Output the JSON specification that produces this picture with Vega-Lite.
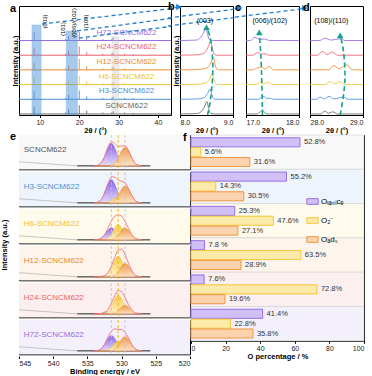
{
"$schema":"https://vega.github.io/schema/vega-lite/v6.json",
"padding":{"left":0,"top":0,"right":0,"bottom":0},
"spacing":-8,
"resolve":{"scale":{"color":"independent","fill":"independent","stroke":"independent"}},
"datasets":{
"samples":[{"s":"SCNCM622","k":0},{"s":"H3-SCNCM622","k":1},{"s":"H6-SCNCM622","k":2},{"s":"H12-SCNCM622","k":3},{"s":"H24-SCNCM622","k":4},{"s":"H72-SCNCM622","k":5}],
"blue":[
{"p":"a","a":1,"o":0,"t":10.54,"i":6.125},{"p":"a","a":1,"o":1,"t":43.3,"i":7.17},
{"p":"a","a":2,"o":0,"t":19.43,"i":5.65},{"p":"a","a":2,"o":1,"t":43.3,"i":6.51},
{"p":"a","a":3,"o":0,"t":19.94,"i":5.17},{"p":"a","a":3,"o":1,"t":43.3,"i":5.96},
{"p":"b","a":1,"o":0,"t":7.774,"i":7.19},{"p":"b","a":1,"o":1,"t":7.98,"i":7.28,"h":1},
{"p":"b","a":2,"o":0,"t":7.774,"i":6.53},{"p":"b","a":2,"o":1,"t":9.094,"i":7.17},
{"p":"b","a":3,"o":0,"t":7.774,"i":5.99},{"p":"b","a":3,"o":1,"t":9.094,"i":6.59},
{"p":"c","a":2,"o":0,"t":16.79,"i":7.17},{"p":"c","a":2,"o":1,"t":16.885,"i":7.21,"h":1},
{"p":"c","a":3,"o":0,"t":16.79,"i":6.59},{"p":"c","a":3,"o":1,"t":18.096,"i":7.17},
{"p":"d","a":3,"o":0,"t":27.83,"i":7.18},{"p":"d","a":3,"o":1,"t":27.906,"i":7.21,"h":1}],
"xrd":[
{"s":"SCNCM622","k":0,"t":8.55,"i":0.5},{"s":"SCNCM622","k":0,"t":16.5,"i":0.1},{"s":"SCNCM622","k":0,"t":17.3,"i":0.3},{"s":"SCNCM622","k":0,"t":20.0,"i":0.6},{"s":"SCNCM622","k":0,"t":21.9,"i":0.22},{"s":"SCNCM622","k":0,"t":26.0,"i":0.1},{"s":"SCNCM622","k":0,"t":28.3,"i":0.12},{"s":"SCNCM622","k":0,"t":28.6,"i":0.18},{"s":"SCNCM622","k":0,"t":31.5,"i":0.1},{"s":"SCNCM622","k":0,"t":33.7,"i":0.07},
{"s":"H3-SCNCM622","k":1,"t":8.55,"i":1.55},{"s":"H3-SCNCM622","k":1,"t":16.5,"i":1.1},{"s":"H3-SCNCM622","k":1,"t":17.3,"i":1.3},{"s":"H3-SCNCM622","k":1,"t":20.0,"i":1.6},{"s":"H3-SCNCM622","k":1,"t":21.9,"i":1.2},{"s":"H3-SCNCM622","k":1,"t":26.0,"i":1.1},{"s":"H3-SCNCM622","k":1,"t":28.3,"i":1.12},{"s":"H3-SCNCM622","k":1,"t":28.6,"i":1.18},{"s":"H3-SCNCM622","k":1,"t":31.5,"i":1.1},{"s":"H3-SCNCM622","k":1,"t":33.7,"i":1.07},
{"s":"H6-SCNCM622","k":2,"t":8.55,"i":2.5},{"s":"H6-SCNCM622","k":2,"t":16.5,"i":2.1},{"s":"H6-SCNCM622","k":2,"t":17.3,"i":2.28},{"s":"H6-SCNCM622","k":2,"t":20.0,"i":2.6},{"s":"H6-SCNCM622","k":2,"t":21.9,"i":2.22},{"s":"H6-SCNCM622","k":2,"t":26.0,"i":2.1},{"s":"H6-SCNCM622","k":2,"t":28.3,"i":2.12},{"s":"H6-SCNCM622","k":2,"t":28.6,"i":2.18},{"s":"H6-SCNCM622","k":2,"t":31.5,"i":2.1},{"s":"H6-SCNCM622","k":2,"t":33.7,"i":2.07},
{"s":"H12-SCNCM622","k":3,"t":8.55,"i":3.5},{"s":"H12-SCNCM622","k":3,"t":16.5,"i":3.1},{"s":"H12-SCNCM622","k":3,"t":17.3,"i":3.3},{"s":"H12-SCNCM622","k":3,"t":20.0,"i":3.75},{"s":"H12-SCNCM622","k":3,"t":21.9,"i":3.25},{"s":"H12-SCNCM622","k":3,"t":26.0,"i":3.1},{"s":"H12-SCNCM622","k":3,"t":28.3,"i":3.12},{"s":"H12-SCNCM622","k":3,"t":28.6,"i":3.2},{"s":"H12-SCNCM622","k":3,"t":31.5,"i":3.1},{"s":"H12-SCNCM622","k":3,"t":33.7,"i":3.07},
{"s":"H24-SCNCM622","k":4,"t":8.55,"i":4.5},{"s":"H24-SCNCM622","k":4,"t":16.5,"i":4.1},{"s":"H24-SCNCM622","k":4,"t":17.3,"i":4.3},{"s":"H24-SCNCM622","k":4,"t":20.0,"i":4.6},{"s":"H24-SCNCM622","k":4,"t":21.9,"i":4.22},{"s":"H24-SCNCM622","k":4,"t":26.0,"i":4.1},{"s":"H24-SCNCM622","k":4,"t":28.3,"i":4.12},{"s":"H24-SCNCM622","k":4,"t":28.6,"i":4.18},{"s":"H24-SCNCM622","k":4,"t":31.5,"i":4.1},{"s":"H24-SCNCM622","k":4,"t":33.7,"i":4.07},
{"s":"H72-SCNCM622","k":5,"t":8.55,"i":5.55},{"s":"H72-SCNCM622","k":5,"t":16.5,"i":5.1},{"s":"H72-SCNCM622","k":5,"t":17.3,"i":5.3},{"s":"H72-SCNCM622","k":5,"t":20.0,"i":5.6},{"s":"H72-SCNCM622","k":5,"t":21.9,"i":5.22},{"s":"H72-SCNCM622","k":5,"t":26.0,"i":5.1},{"s":"H72-SCNCM622","k":5,"t":28.3,"i":5.14},{"s":"H72-SCNCM622","k":5,"t":28.6,"i":5.2},{"s":"H72-SCNCM622","k":5,"t":31.5,"i":5.1},{"s":"H72-SCNCM622","k":5,"t":33.7,"i":5.07}],
"bx":[
{"s":"SCNCM622","t":8.0,"i":0},{"s":"SCNCM622","t":8.3,"i":0.02},{"s":"SCNCM622","t":8.39,"i":0.13},{"s":"SCNCM622","t":8.46,"i":0.47},{"s":"SCNCM622","t":8.51,"i":0.85},{"s":"SCNCM622","t":8.54,"i":0.38},{"s":"SCNCM622","t":8.58,"i":0.04},{"s":"SCNCM622","t":8.63,"i":0},{"s":"SCNCM622","t":9.0,"i":0},
{"s":"H3-SCNCM622","t":8.0,"i":1},{"s":"H3-SCNCM622","t":8.3,"i":1.02},{"s":"H3-SCNCM622","t":8.45,"i":1.1},{"s":"H3-SCNCM622","t":8.52,"i":1.39},{"s":"H3-SCNCM622","t":8.57,"i":1.7},{"s":"H3-SCNCM622","t":8.6,"i":1.32},{"s":"H3-SCNCM622","t":8.64,"i":1.04},{"s":"H3-SCNCM622","t":8.69,"i":1},{"s":"H3-SCNCM622","t":9.0,"i":1},
{"s":"H6-SCNCM622","t":8.0,"i":2},{"s":"H6-SCNCM622","t":8.3,"i":2.02},{"s":"H6-SCNCM622","t":8.49,"i":2.11},{"s":"H6-SCNCM622","t":8.56,"i":2.41},{"s":"H6-SCNCM622","t":8.61,"i":2.75},{"s":"H6-SCNCM622","t":8.64,"i":2.34},{"s":"H6-SCNCM622","t":8.68,"i":2.04},{"s":"H6-SCNCM622","t":8.73,"i":2},{"s":"H6-SCNCM622","t":9.0,"i":2},
{"s":"H12-SCNCM622","t":8.0,"i":3},{"s":"H12-SCNCM622","t":8.3,"i":3.02},{"s":"H12-SCNCM622","t":8.51,"i":3.13},{"s":"H12-SCNCM622","t":8.58,"i":3.47},{"s":"H12-SCNCM622","t":8.63,"i":3.85},{"s":"H12-SCNCM622","t":8.66,"i":3.38},{"s":"H12-SCNCM622","t":8.7,"i":3.04},{"s":"H12-SCNCM622","t":8.75,"i":3},{"s":"H12-SCNCM622","t":9.0,"i":3},
{"s":"H24-SCNCM622","t":8.0,"i":4},{"s":"H24-SCNCM622","t":8.3,"i":4.02},{"s":"H24-SCNCM622","t":8.46,"i":4.15},{"s":"H24-SCNCM622","t":8.53,"i":4.55},{"s":"H24-SCNCM622","t":8.58,"i":5.0},{"s":"H24-SCNCM622","t":8.61,"i":4.45},{"s":"H24-SCNCM622","t":8.65,"i":4.05},{"s":"H24-SCNCM622","t":8.7,"i":4},{"s":"H24-SCNCM622","t":9.0,"i":4},
{"s":"H72-SCNCM622","t":8.0,"i":5},{"s":"H72-SCNCM622","t":8.3,"i":5.03},{"s":"H72-SCNCM622","t":8.37,"i":5.14},{"s":"H72-SCNCM622","t":8.44,"i":5.5},{"s":"H72-SCNCM622","t":8.49,"i":5.9},{"s":"H72-SCNCM622","t":8.52,"i":5.4},{"s":"H72-SCNCM622","t":8.56,"i":5.05},{"s":"H72-SCNCM622","t":8.61,"i":5},{"s":"H72-SCNCM622","t":9.0,"i":5}],
"cx":[
{"s":"SCNCM622","t":17.0,"i":0},{"s":"SCNCM622","t":17.2,"i":0},{"s":"SCNCM622","t":17.27,"i":0.15},{"s":"SCNCM622","t":17.31,"i":0.28},{"s":"SCNCM622","t":17.36,"i":0.05},{"s":"SCNCM622","t":17.42,"i":0},{"s":"SCNCM622","t":18.0,"i":0},
{"s":"H3-SCNCM622","t":17.0,"i":1},{"s":"H3-SCNCM622","t":17.22,"i":1},{"s":"H3-SCNCM622","t":17.3,"i":1.12},{"s":"H3-SCNCM622","t":17.34,"i":1.2},{"s":"H3-SCNCM622","t":17.39,"i":1.05},{"s":"H3-SCNCM622","t":17.45,"i":1.08},{"s":"H3-SCNCM622","t":17.52,"i":1},{"s":"H3-SCNCM622","t":18.0,"i":1},
{"s":"H6-SCNCM622","t":17.0,"i":2},{"s":"H6-SCNCM622","t":17.18,"i":2},{"s":"H6-SCNCM622","t":17.27,"i":2.15},{"s":"H6-SCNCM622","t":17.33,"i":2.05},{"s":"H6-SCNCM622","t":17.42,"i":2.18},{"s":"H6-SCNCM622","t":17.5,"i":2},{"s":"H6-SCNCM622","t":18.0,"i":2},
{"s":"H12-SCNCM622","t":17.0,"i":3},{"s":"H12-SCNCM622","t":17.12,"i":3},{"s":"H12-SCNCM622","t":17.2,"i":3.12},{"s":"H12-SCNCM622","t":17.3,"i":3.18},{"s":"H12-SCNCM622","t":17.36,"i":3.05},{"s":"H12-SCNCM622","t":17.44,"i":3.25},{"s":"H12-SCNCM622","t":17.52,"i":3},{"s":"H12-SCNCM622","t":18.0,"i":3},
{"s":"H24-SCNCM622","t":17.0,"i":4},{"s":"H24-SCNCM622","t":17.12,"i":4},{"s":"H24-SCNCM622","t":17.22,"i":4.18},{"s":"H24-SCNCM622","t":17.3,"i":4.07},{"s":"H24-SCNCM622","t":17.36,"i":4.1},{"s":"H24-SCNCM622","t":17.43,"i":4},{"s":"H24-SCNCM622","t":18.0,"i":4},
{"s":"H72-SCNCM622","t":17.0,"i":5},{"s":"H72-SCNCM622","t":17.08,"i":5},{"s":"H72-SCNCM622","t":17.17,"i":5.22},{"s":"H72-SCNCM622","t":17.25,"i":5.08},{"s":"H72-SCNCM622","t":17.35,"i":5.1},{"s":"H72-SCNCM622","t":17.44,"i":5},{"s":"H72-SCNCM622","t":18.0,"i":5}],
"dx":[
{"s":"SCNCM622","t":28.0,"i":0},{"s":"SCNCM622","t":28.2,"i":0},{"s":"SCNCM622","t":28.28,"i":0.18},{"s":"SCNCM622","t":28.35,"i":0.05},{"s":"SCNCM622","t":28.43,"i":0.15},{"s":"SCNCM622","t":28.52,"i":0},{"s":"SCNCM622","t":29.0,"i":0},
{"s":"H3-SCNCM622","t":28.0,"i":1},{"s":"H3-SCNCM622","t":28.12,"i":1},{"s":"H3-SCNCM622","t":28.19,"i":1.15},{"s":"H3-SCNCM622","t":28.27,"i":1.03},{"s":"H3-SCNCM622","t":28.36,"i":1.2},{"s":"H3-SCNCM622","t":28.45,"i":1.03},{"s":"H3-SCNCM622","t":28.64,"i":1.15},{"s":"H3-SCNCM622","t":28.72,"i":1},{"s":"H3-SCNCM622","t":29.0,"i":1},
{"s":"H6-SCNCM622","t":28.0,"i":2},{"s":"H6-SCNCM622","t":28.28,"i":2},{"s":"H6-SCNCM622","t":28.38,"i":2.2},{"s":"H6-SCNCM622","t":28.47,"i":2.05},{"s":"H6-SCNCM622","t":28.57,"i":2.2},{"s":"H6-SCNCM622","t":28.66,"i":2},{"s":"H6-SCNCM622","t":29.0,"i":2},
{"s":"H12-SCNCM622","t":28.0,"i":3},{"s":"H12-SCNCM622","t":28.35,"i":3},{"s":"H12-SCNCM622","t":28.45,"i":3.3},{"s":"H12-SCNCM622","t":28.55,"i":3.08},{"s":"H12-SCNCM622","t":28.7,"i":3.35},{"s":"H12-SCNCM622","t":28.8,"i":3},{"s":"H12-SCNCM622","t":29.0,"i":3},
{"s":"H24-SCNCM622","t":28.0,"i":4},{"s":"H24-SCNCM622","t":28.14,"i":4},{"s":"H24-SCNCM622","t":28.23,"i":4.25},{"s":"H24-SCNCM622","t":28.32,"i":4.05},{"s":"H24-SCNCM622","t":28.42,"i":4.22},{"s":"H24-SCNCM622","t":28.52,"i":4},{"s":"H24-SCNCM622","t":29.0,"i":4},
{"s":"H72-SCNCM622","t":28.0,"i":5},{"s":"H72-SCNCM622","t":28.18,"i":5},{"s":"H72-SCNCM622","t":28.28,"i":5.15},{"s":"H72-SCNCM622","t":28.4,"i":5.03},{"s":"H72-SCNCM622","t":28.57,"i":5.12},{"s":"H72-SCNCM622","t":28.66,"i":5},{"s":"H72-SCNCM622","t":29.0,"i":5}],
"arr":[
{"p":"b","o":0,"t":8.52,"i":-0.07},{"p":"b","o":1,"t":8.58,"i":1.1},{"p":"b","o":2,"t":8.62,"i":3.1},{"p":"b","o":3,"t":8.58,"i":5.0},{"p":"b","o":4,"t":8.5,"i":5.9},
{"p":"c","o":0,"t":17.31,"i":-0.07},{"p":"c","o":1,"t":17.3,"i":2.0},{"p":"c","o":2,"t":17.28,"i":4.0},{"p":"c","o":4,"t":17.25,"i":5.55},
{"p":"d","o":0,"t":28.57,"i":-0.07},{"p":"d","o":1,"t":28.64,"i":1.5},{"p":"d","o":2,"t":28.66,"i":2.8},{"p":"d","o":3,"t":28.63,"i":4.3},{"p":"d","o":4,"t":28.57,"i":5.35}],
"xps":[
{"s":"SCNCM622","be":534,"P":0,"M":0,"O":0,"E":0},{"s":"SCNCM622","be":533.5,"P":0.02,"M":0,"O":0,"E":0.02},{"s":"SCNCM622","be":533,"P":0.09,"M":0,"O":0,"E":0.09},{"s":"SCNCM622","be":532.5,"P":0.27,"M":0,"O":0,"E":0.27},{"s":"SCNCM622","be":532,"P":0.53,"M":0.01,"O":0,"E":0.54},{"s":"SCNCM622","be":531.5,"P":0.66,"M":0.02,"O":0.02,"E":0.7},{"s":"SCNCM622","be":531,"P":0.53,"M":0.05,"O":0.07,"E":0.65},{"s":"SCNCM622","be":530.5,"P":0.27,"M":0.06,"O":0.23,"E":0.56},{"s":"SCNCM622","be":530,"P":0.09,"M":0.05,"O":0.44,"E":0.58},{"s":"SCNCM622","be":529.5,"P":0.02,"M":0.02,"O":0.55,"E":0.59},{"s":"SCNCM622","be":529,"P":0,"M":0.01,"O":0.44,"E":0.45},{"s":"SCNCM622","be":528.5,"P":0,"M":0,"O":0.23,"E":0.23},{"s":"SCNCM622","be":528,"P":0,"M":0,"O":0.07,"E":0.07},{"s":"SCNCM622","be":527.5,"P":0,"M":0,"O":0.02,"E":0.02},{"s":"SCNCM622","be":527,"P":0,"M":0,"O":0,"E":0},
{"s":"H3-SCNCM622","be":534,"P":0,"M":0,"O":0,"E":0},{"s":"H3-SCNCM622","be":533.5,"P":0.02,"M":0,"O":0,"E":0.02},{"s":"H3-SCNCM622","be":533,"P":0.09,"M":0,"O":0,"E":0.09},{"s":"H3-SCNCM622","be":532.5,"P":0.28,"M":0.01,"O":0,"E":0.29},{"s":"H3-SCNCM622","be":532,"P":0.54,"M":0.02,"O":0,"E":0.56},{"s":"H3-SCNCM622","be":531.5,"P":0.68,"M":0.07,"O":0.01,"E":0.76},{"s":"H3-SCNCM622","be":531,"P":0.54,"M":0.14,"O":0.07,"E":0.75},{"s":"H3-SCNCM622","be":530.5,"P":0.28,"M":0.18,"O":0.21,"E":0.67},{"s":"H3-SCNCM622","be":530,"P":0.09,"M":0.14,"O":0.4,"E":0.63},{"s":"H3-SCNCM622","be":529.5,"P":0.02,"M":0.07,"O":0.5,"E":0.59},{"s":"H3-SCNCM622","be":529,"P":0,"M":0.02,"O":0.4,"E":0.42},{"s":"H3-SCNCM622","be":528.5,"P":0,"M":0.01,"O":0.21,"E":0.22},{"s":"H3-SCNCM622","be":528,"P":0,"M":0,"O":0.07,"E":0.07},{"s":"H3-SCNCM622","be":527.5,"P":0,"M":0,"O":0.01,"E":0.01},{"s":"H3-SCNCM622","be":527,"P":0,"M":0,"O":0,"E":0},
{"s":"H6-SCNCM622","be":534,"P":0,"M":0,"O":0,"E":0},{"s":"H6-SCNCM622","be":533.5,"P":0.01,"M":0,"O":0,"E":0.01},{"s":"H6-SCNCM622","be":533,"P":0.05,"M":0,"O":0,"E":0.05},{"s":"H6-SCNCM622","be":532.5,"P":0.14,"M":0.01,"O":0,"E":0.15},{"s":"H6-SCNCM622","be":532,"P":0.28,"M":0.06,"O":0,"E":0.34},{"s":"H6-SCNCM622","be":531.5,"P":0.35,"M":0.18,"O":0.01,"E":0.54},{"s":"H6-SCNCM622","be":531,"P":0.28,"M":0.36,"O":0.05,"E":0.69},{"s":"H6-SCNCM622","be":530.5,"P":0.14,"M":0.45,"O":0.14,"E":0.73},{"s":"H6-SCNCM622","be":530,"P":0.05,"M":0.36,"O":0.28,"E":0.69},{"s":"H6-SCNCM622","be":529.5,"P":0.01,"M":0.18,"O":0.35,"E":0.54},{"s":"H6-SCNCM622","be":529,"P":0,"M":0.06,"O":0.28,"E":0.34},{"s":"H6-SCNCM622","be":528.5,"P":0,"M":0.01,"O":0.14,"E":0.15},{"s":"H6-SCNCM622","be":528,"P":0,"M":0,"O":0.05,"E":0.05},{"s":"H6-SCNCM622","be":527.5,"P":0,"M":0,"O":0.01,"E":0.01},{"s":"H6-SCNCM622","be":527,"P":0,"M":0,"O":0,"E":0},
{"s":"H12-SCNCM622","be":534,"P":0,"M":0,"O":0,"E":0},{"s":"H12-SCNCM622","be":533.5,"P":0,"M":0,"O":0,"E":0},{"s":"H12-SCNCM622","be":533,"P":0.01,"M":0,"O":0,"E":0.01},{"s":"H12-SCNCM622","be":532.5,"P":0.02,"M":0.02,"O":0,"E":0.04},{"s":"H12-SCNCM622","be":532,"P":0.04,"M":0.08,"O":0,"E":0.12},{"s":"H12-SCNCM622","be":531.5,"P":0.05,"M":0.25,"O":0.01,"E":0.31},{"s":"H12-SCNCM622","be":531,"P":0.04,"M":0.48,"O":0.05,"E":0.57},{"s":"H12-SCNCM622","be":530.5,"P":0.02,"M":0.6,"O":0.16,"E":0.78},{"s":"H12-SCNCM622","be":530,"P":0.01,"M":0.48,"O":0.32,"E":0.81},{"s":"H12-SCNCM622","be":529.5,"P":0,"M":0.25,"O":0.4,"E":0.65},{"s":"H12-SCNCM622","be":529,"P":0,"M":0.08,"O":0.32,"E":0.4},{"s":"H12-SCNCM622","be":528.5,"P":0,"M":0.02,"O":0.16,"E":0.18},{"s":"H12-SCNCM622","be":528,"P":0,"M":0,"O":0.05,"E":0.05},{"s":"H12-SCNCM622","be":527.5,"P":0,"M":0,"O":0.01,"E":0.01},{"s":"H12-SCNCM622","be":527,"P":0,"M":0,"O":0,"E":0},
{"s":"H24-SCNCM622","be":534,"P":0,"M":0,"O":0,"E":0},{"s":"H24-SCNCM622","be":533.5,"P":0,"M":0,"O":0,"E":0},{"s":"H24-SCNCM622","be":533,"P":0.01,"M":0,"O":0,"E":0.01},{"s":"H24-SCNCM622","be":532.5,"P":0.03,"M":0.02,"O":0,"E":0.05},{"s":"H24-SCNCM622","be":532,"P":0.06,"M":0.07,"O":0,"E":0.13},{"s":"H24-SCNCM622","be":531.5,"P":0.08,"M":0.23,"O":0.01,"E":0.32},{"s":"H24-SCNCM622","be":531,"P":0.06,"M":0.44,"O":0.03,"E":0.53},{"s":"H24-SCNCM622","be":530.5,"P":0.03,"M":0.55,"O":0.1,"E":0.68},{"s":"H24-SCNCM622","be":530,"P":0.01,"M":0.44,"O":0.2,"E":0.65},{"s":"H24-SCNCM622","be":529.5,"P":0,"M":0.23,"O":0.25,"E":0.48},{"s":"H24-SCNCM622","be":529,"P":0,"M":0.07,"O":0.2,"E":0.27},{"s":"H24-SCNCM622","be":528.5,"P":0,"M":0.02,"O":0.1,"E":0.12},{"s":"H24-SCNCM622","be":528,"P":0,"M":0,"O":0.03,"E":0.03},{"s":"H24-SCNCM622","be":527.5,"P":0,"M":0,"O":0.01,"E":0.01},{"s":"H24-SCNCM622","be":527,"P":0,"M":0,"O":0,"E":0},
{"s":"H72-SCNCM622","be":534,"P":0,"M":0,"O":0,"E":0},{"s":"H72-SCNCM622","be":533.5,"P":0.01,"M":0,"O":0,"E":0.01},{"s":"H72-SCNCM622","be":533,"P":0.06,"M":0,"O":0,"E":0.06},{"s":"H72-SCNCM622","be":532.5,"P":0.18,"M":0.01,"O":0,"E":0.19},{"s":"H72-SCNCM622","be":532,"P":0.36,"M":0.04,"O":0,"E":0.4},{"s":"H72-SCNCM622","be":531.5,"P":0.45,"M":0.11,"O":0.01,"E":0.57},{"s":"H72-SCNCM622","be":531,"P":0.36,"M":0.22,"O":0.06,"E":0.64},{"s":"H72-SCNCM622","be":530.5,"P":0.18,"M":0.28,"O":0.17,"E":0.63},{"s":"H72-SCNCM622","be":530,"P":0.06,"M":0.22,"O":0.34,"E":0.62},{"s":"H72-SCNCM622","be":529.5,"P":0.01,"M":0.11,"O":0.42,"E":0.54},{"s":"H72-SCNCM622","be":529,"P":0,"M":0.04,"O":0.34,"E":0.38},{"s":"H72-SCNCM622","be":528.5,"P":0,"M":0.01,"O":0.17,"E":0.18},{"s":"H72-SCNCM622","be":528,"P":0,"M":0,"O":0.06,"E":0.06},{"s":"H72-SCNCM622","be":527.5,"P":0,"M":0,"O":0.01,"E":0.01},{"s":"H72-SCNCM622","be":527,"P":0,"M":0,"O":0,"E":0}],
"pct":[
{"s":"SCNCM622","c":"lat","v":63,"lab":"52.8%"},{"s":"SCNCM622","c":"o2","v":5.6,"lab":"5.6%"},{"s":"SCNCM622","c":"ads","v":34,"lab":"31.6%"},
{"s":"H3-SCNCM622","c":"lat","v":55.2,"lab":"55.2%"},{"s":"H3-SCNCM622","c":"o2","v":14.3,"lab":"14.3%"},{"s":"H3-SCNCM622","c":"ads","v":30.5,"lab":"30.5%"},
{"s":"H6-SCNCM622","c":"lat","v":25.3,"lab":"25.3%"},{"s":"H6-SCNCM622","c":"o2","v":47.6,"lab":"47.6%"},{"s":"H6-SCNCM622","c":"ads","v":27.1,"lab":"27.1%"},
{"s":"H12-SCNCM622","c":"lat","v":7.8,"lab":"7.8 %"},{"s":"H12-SCNCM622","c":"o2","v":63.5,"lab":"63.5%"},{"s":"H12-SCNCM622","c":"ads","v":28.9,"lab":"28.9%"},
{"s":"H24-SCNCM622","c":"lat","v":7.6,"lab":"7.6%"},{"s":"H24-SCNCM622","c":"o2","v":72.8,"lab":"72.8%"},{"s":"H24-SCNCM622","c":"ads","v":19.6,"lab":"19.6%"},
{"s":"H72-SCNCM622","c":"lat","v":41.4,"lab":"41.4%"},{"s":"H72-SCNCM622","c":"o2","v":22.8,"lab":"22.8%"},{"s":"H72-SCNCM622","c":"ads","v":35.8,"lab":"35.8%"}]
},
"vconcat":[
{"hconcat":[
{"width":152,"height":109,
 "title":{"text":"a","dx":-9},
 "layer":[
  {"data":{"name":"samples"},"mark":{"type":"rule","strokeWidth":1},
   "encoding":{"y":{"field":"k","type":"quantitative","scale":{"domain":[-0.07,7.35],"nice":false,"zero":false},"axis":{"title":"Intensity (a.u.)","labels":false,"ticks":false,"tickSize":0,"labelPadding":0,"titlePadding":0}},
    "color":{"field":"s","type":"nominal","scale":{"domain":["SCNCM622","H3-SCNCM622","H6-SCNCM622","H12-SCNCM622","H24-SCNCM622","H72-SCNCM622"],"range":["#666666","#4A90D9","#F2C230","#EE8A2A","#EF5E6E","#9A6BE3"]},"legend":null}}},
  {"data":{"name":"xrd"},"mark":{"type":"rule","strokeWidth":0.9},
   "encoding":{"x":{"field":"t","type":"quantitative","scale":{"domain":[4.7,43.3],"nice":false,"zero":false},"axis":{"values":[10,20,30,40],"title":"2θ / (°)"}},
    "y":{"field":"i","type":"quantitative"},"y2":{"field":"k"},
    "color":{"field":"s","type":"nominal","scale":{"domain":["SCNCM622","H3-SCNCM622","H6-SCNCM622","H12-SCNCM622","H24-SCNCM622","H72-SCNCM622"],"range":["#666666","#4A90D9","#F2C230","#EE8A2A","#EF5E6E","#9A6BE3"]},"legend":null}}},
  {"data":{"values":[{"x0":8.0,"x1":10.3,"y1":6.05},{"x0":16.7,"x1":19.5,"y1":5.65}]},"mark":{"type":"rect","fill":"#4F96DB","opacity":0.5,"stroke":"#2F7FCF","strokeWidth":0.6},
   "encoding":{"x":{"field":"x0","type":"quantitative"},"x2":{"field":"x1"},"y":{"field":"y1","type":"quantitative"},"y2":{"datum":-0.07}}},
  {"data":{"values":[{"x0":28.2,"x1":30.2,"y1":5.3}]},"mark":{"type":"rect","fill":"#BBBBBB","opacity":0.3},
   "encoding":{"x":{"field":"x0","type":"quantitative"},"x2":{"field":"x1"},"y":{"field":"y1","type":"quantitative"},"y2":{"datum":-0.07}}},
  {"data":{"name":"samples"},"mark":{"type":"text","fontSize":8,"dy":-8,"align":"center"},
   "encoding":{"x":{"datum":32},"y":{"field":"k","type":"quantitative"},"text":{"field":"s"},
    "color":{"field":"s","type":"nominal","scale":{"domain":["SCNCM622","H3-SCNCM622","H6-SCNCM622","H12-SCNCM622","H24-SCNCM622","H72-SCNCM622"],"range":["#666666","#4A90D9","#F2C230","#EE8A2A","#EF5E6E","#9A6BE3"]},"legend":null}}},
  {"data":{"values":[{"h":"(003)","t":11.3,"i":6.3},{"h":"(101)","t":15.8,"i":5.78},{"h":"(006)/(102)","t":18.7,"i":6.2},{"h":"(104)","t":21.75,"i":6.3}]},
   "mark":{"type":"text","angle":270,"fontSize":6,"baseline":"middle","align":"center"},
   "encoding":{"x":{"field":"t","type":"quantitative"},"y":{"field":"i","type":"quantitative"},"text":{"field":"h"}}},
  {"data":{"name":"blue"},"transform":[{"filter":"datum.p=='a'"}],"mark":{"type":"line","stroke":"#1F7FD1","strokeDash":[4,3],"strokeWidth":1.3},
   "encoding":{"x":{"field":"t","type":"quantitative"},"y":{"field":"i","type":"quantitative"},"detail":{"field":"a"},"order":{"field":"o"}}}
 ]},
{"width":53,"height":109,
 "title":{"text":"b","dx":-12},
 "layer":[
  {"data":{"name":"bx"},"mark":{"type":"line","strokeWidth":1,"interpolate":"monotone","opacity":0.85},
   "encoding":{"x":{"field":"t","type":"quantitative","scale":{"domain":[8,9],"nice":false,"zero":false},"axis":{"values":[8,8.5,9],"format":".1f","title":"2θ / (°)"}},
    "y":{"field":"i","type":"quantitative","scale":{"domain":[-0.07,7.35],"nice":false,"zero":false},"axis":{"title":"Intensity (a.u.)","labels":false,"ticks":false,"tickSize":0,"labelPadding":0,"titlePadding":0}},
    "color":{"field":"s","type":"nominal","scale":{"domain":["SCNCM622","H3-SCNCM622","H6-SCNCM622","H12-SCNCM622","H24-SCNCM622","H72-SCNCM622"],"range":["#666666","#4A90D9","#F2C230","#EE8A2A","#EF5E6E","#9A6BE3"]},"legend":null}}},
  {"data":{"name":"arr"},"transform":[{"filter":"datum.p=='b'"}],"mark":{"type":"line","stroke":"#18A090","strokeDash":[5,3],"strokeWidth":1.6,"interpolate":"cardinal"},
   "encoding":{"x":{"field":"t","type":"quantitative"},"y":{"field":"i","type":"quantitative"},"order":{"field":"o"}}},
  {"data":{"name":"arr"},"transform":[{"filter":"datum.p=='b' && datum.o==4"}],"mark":{"type":"point","shape":"triangle-up","filled":true,"size":45,"color":"#18A090","opacity":1},
   "encoding":{"x":{"field":"t","type":"quantitative"},"y":{"field":"i","type":"quantitative"}}},
  {"data":{"name":"blue"},"transform":[{"filter":"datum.p=='b'"}],"mark":{"type":"line","stroke":"#1F7FD1","strokeDash":[4,3],"strokeWidth":1.3,"clip":false},
   "encoding":{"x":{"field":"t","type":"quantitative"},"y":{"field":"i","type":"quantitative"},"detail":{"field":"a"},"order":{"field":"o"}}},
  {"data":{"name":"blue"},"transform":[{"filter":"datum.p=='b' && datum.h==1"}],"mark":{"type":"point","shape":"triangle-right","filled":true,"size":40,"color":"#1F7FD1","opacity":1},
   "encoding":{"x":{"field":"t","type":"quantitative"},"y":{"field":"i","type":"quantitative"}}},
  {"data":{"values":[{}]},"mark":{"type":"text","text":"(003)","fontSize":7},"encoding":{"x":{"datum":8.47},"y":{"datum":6.35}}}
 ]},
{"width":53,"height":109,
 "title":{"text":"c","dx":-11},
 "layer":[
  {"data":{"name":"cx"},"mark":{"type":"line","strokeWidth":1,"interpolate":"monotone","opacity":0.85},
   "encoding":{"x":{"field":"t","type":"quantitative","scale":{"domain":[17,18],"nice":false,"zero":false},"axis":{"values":[17,17.5,18],"format":".1f","title":"2θ / (°)"}},
    "y":{"field":"i","type":"quantitative","scale":{"domain":[-0.07,7.35],"nice":false,"zero":false},"axis":null},
    "color":{"field":"s","type":"nominal","scale":{"domain":["SCNCM622","H3-SCNCM622","H6-SCNCM622","H12-SCNCM622","H24-SCNCM622","H72-SCNCM622"],"range":["#666666","#4A90D9","#F2C230","#EE8A2A","#EF5E6E","#9A6BE3"]},"legend":null}}},
  {"data":{"name":"arr"},"transform":[{"filter":"datum.p=='c'"}],"mark":{"type":"line","stroke":"#18A090","strokeDash":[5,3],"strokeWidth":1.6,"interpolate":"cardinal"},
   "encoding":{"x":{"field":"t","type":"quantitative"},"y":{"field":"i","type":"quantitative"},"order":{"field":"o"}}},
  {"data":{"name":"arr"},"transform":[{"filter":"datum.p=='c' && datum.o==4"}],"mark":{"type":"point","shape":"triangle-up","filled":true,"size":45,"color":"#18A090","opacity":1},
   "encoding":{"x":{"field":"t","type":"quantitative"},"y":{"field":"i","type":"quantitative"}}},
  {"data":{"name":"blue"},"transform":[{"filter":"datum.p=='c'"}],"mark":{"type":"line","stroke":"#1F7FD1","strokeDash":[4,3],"strokeWidth":1.3,"clip":false},
   "encoding":{"x":{"field":"t","type":"quantitative"},"y":{"field":"i","type":"quantitative"},"detail":{"field":"a"},"order":{"field":"o"}}},
  {"data":{"name":"blue"},"transform":[{"filter":"datum.p=='c' && datum.h==1"}],"mark":{"type":"point","shape":"triangle-right","filled":true,"size":40,"color":"#1F7FD1","opacity":1},
   "encoding":{"x":{"field":"t","type":"quantitative"},"y":{"field":"i","type":"quantitative"}}},
  {"data":{"values":[{}]},"mark":{"type":"text","text":"(006)/(102)","fontSize":7},"encoding":{"x":{"datum":17.45},"y":{"datum":6.35}}}
 ]},
{"width":53,"height":109,
 "title":{"text":"d","dx":-7},
 "layer":[
  {"data":{"name":"dx"},"mark":{"type":"line","strokeWidth":1,"interpolate":"monotone","opacity":0.85},
   "encoding":{"x":{"field":"t","type":"quantitative","scale":{"domain":[28,29],"nice":false,"zero":false},"axis":{"values":[28,28.5,29],"format":".1f","title":"2θ / (°)"}},
    "y":{"field":"i","type":"quantitative","scale":{"domain":[-0.07,7.35],"nice":false,"zero":false},"axis":null},
    "color":{"field":"s","type":"nominal","scale":{"domain":["SCNCM622","H3-SCNCM622","H6-SCNCM622","H12-SCNCM622","H24-SCNCM622","H72-SCNCM622"],"range":["#666666","#4A90D9","#F2C230","#EE8A2A","#EF5E6E","#9A6BE3"]},"legend":null}}},
  {"data":{"name":"arr"},"transform":[{"filter":"datum.p=='d'"}],"mark":{"type":"line","stroke":"#18A090","strokeDash":[5,3],"strokeWidth":1.6,"interpolate":"cardinal"},
   "encoding":{"x":{"field":"t","type":"quantitative"},"y":{"field":"i","type":"quantitative"},"order":{"field":"o"}}},
  {"data":{"name":"arr"},"transform":[{"filter":"datum.p=='d' && datum.o==4"}],"mark":{"type":"point","shape":"triangle-up","filled":true,"size":45,"color":"#18A090","opacity":1},
   "encoding":{"x":{"field":"t","type":"quantitative"},"y":{"field":"i","type":"quantitative"}}},
  {"data":{"name":"blue"},"transform":[{"filter":"datum.p=='d'"}],"mark":{"type":"line","stroke":"#1F7FD1","strokeDash":[4,3],"strokeWidth":1.3,"clip":false},
   "encoding":{"x":{"field":"t","type":"quantitative"},"y":{"field":"i","type":"quantitative"},"detail":{"field":"a"},"order":{"field":"o"}}},
  {"data":{"name":"blue"},"transform":[{"filter":"datum.p=='d' && datum.h==1"}],"mark":{"type":"point","shape":"triangle-right","filled":true,"size":40,"color":"#1F7FD1","opacity":1},
   "encoding":{"x":{"field":"t","type":"quantitative"},"y":{"field":"i","type":"quantitative"}}},
  {"data":{"values":[{}]},"mark":{"type":"text","text":"(108)/(110)","fontSize":7},"encoding":{"x":{"datum":28.4},"y":{"datum":6.35}}}
 ]}
],"spacing":-11,"resolve":{"scale":{"color":"independent","fill":"independent","stroke":"independent"}}},
{"hconcat":[
{"data":{"name":"xps"},
 "title":{"text":"e","dx":-9},
 "facet":{"row":{"field":"s","type":"nominal","sort":["SCNCM622","H3-SCNCM622","H6-SCNCM622","H12-SCNCM622","H24-SCNCM622","H72-SCNCM622"],"title":"Intensity (a.u.)","header":{"labels":false,"titleFontSize":7.5,"titleFontWeight":"bold","titlePadding":0}}},
 "spacing":{"row":0},
 "spec":{"width":171,"height":34.3,
  "layer":[
   {"transform":[{"filter":"datum.be==534"}],"mark":{"type":"rect"},
    "encoding":{"x":{"datum":545,"type":"quantitative","scale":{"domain":[520,545],"reverse":true,"nice":false,"zero":false},"axis":{"values":[545,540,535,530,525,520],"tickCount":6,"labelOverlap":false,"title":"Binding energy / eV"}},"x2":{"datum":520},
     "y":{"datum":0.9,"type":"quantitative","scale":{"domain":[-0.1,0.9],"nice":false,"zero":false},"axis":null},"y2":{"datum":-0.1},
     "fill":{"field":"s","type":"nominal","scale":{"domain":["SCNCM622","H3-SCNCM622","H6-SCNCM622","H12-SCNCM622","H24-SCNCM622","H72-SCNCM622"],"range":["#F8F8F8","#EEF4FB","#FEFAEC","#FDF4EC","#FCEFEF","#F3F0FB"]},"legend":null}}},
   {"transform":[{"filter":"datum.be==534"}],"mark":{"type":"rule","color":"#B8B8B8","strokeWidth":0.8},
    "encoding":{"x":{"datum":545},"x2":{"datum":536.5},"y":{"datum":0.12},"y2":{"datum":0}}},
   {"transform":[{"filter":"datum.be==534"}],"mark":{"type":"rule","color":"#222222","strokeWidth":1},
    "encoding":{"x":{"datum":536.5},"x2":{"datum":525.8},"y":{"datum":0}}},
   {"mark":{"type":"area","interpolate":"monotone","fill":{"gradient":"linear","x1":0,"y1":0,"x2":0,"y2":1,"stops":[{"offset":0,"color":"#7E52E6"},{"offset":1,"color":"#E4DAFB"}]},"stroke":"#7E52E6","strokeWidth":0.4,"opacity":0.9},
    "encoding":{"x":{"field":"be","type":"quantitative"},"y":{"field":"P","type":"quantitative"},"y2":{"datum":0}}},
   {"mark":{"type":"area","interpolate":"monotone","fill":{"gradient":"linear","x1":0,"y1":0,"x2":0,"y2":1,"stops":[{"offset":0,"color":"#F6C62C"},{"offset":1,"color":"#FFF3CC"}]},"stroke":"#F0B820","strokeWidth":0.4,"opacity":0.88},
    "encoding":{"x":{"field":"be","type":"quantitative"},"y":{"field":"M","type":"quantitative"},"y2":{"datum":0}}},
   {"mark":{"type":"area","interpolate":"monotone","fill":{"gradient":"linear","x1":0,"y1":0,"x2":0,"y2":1,"stops":[{"offset":0,"color":"#F28A2C"},{"offset":1,"color":"#FDE2C8"}]},"stroke":"#EE7A2A","strokeWidth":0.4,"opacity":0.88},
    "encoding":{"x":{"field":"be","type":"quantitative"},"y":{"field":"O","type":"quantitative"},"y2":{"datum":0}}},
   {"mark":{"type":"line","interpolate":"monotone","color":"#F07080","strokeWidth":0.9},
    "encoding":{"x":{"field":"be","type":"quantitative"},"y":{"field":"E","type":"quantitative"}}},
   {"transform":[{"filter":"datum.be==531.5 || datum.be==530.5 || datum.be==529.5"}],"mark":{"type":"rule","strokeDash":[3,2],"strokeWidth":0.9},
    "encoding":{"x":{"field":"be","type":"quantitative"},"color":{"condition":{"test":"datum.be==530.5","value":"#F2B705"},"value":"#C4C4C4"}}},
   {"transform":[{"filter":"datum.be==534"}],"mark":{"type":"text","align":"left","fontSize":8,"baseline":"middle"},
    "encoding":{"x":{"datum":544.3},"y":{"datum":0.45},"text":{"field":"s"},
     "color":{"field":"s","type":"nominal","scale":{"domain":["SCNCM622","H3-SCNCM622","H6-SCNCM622","H12-SCNCM622","H24-SCNCM622","H72-SCNCM622"],"range":["#555555","#4A90D9","#F2C230","#EE8A2A","#EF5E6E","#9A6BE3"]},"legend":null}}}
  ]}},
{"width":173,"height":205.8,
 "title":{"text":"f","dx":-8},
 "layer":[
  {"data":{"name":"samples"},"mark":{"type":"rect","stroke":"#C8C8C8","strokeWidth":0.5},
   "encoding":{"y":{"field":"s","type":"nominal","sort":["SCNCM622","H3-SCNCM622","H6-SCNCM622","H12-SCNCM622","H24-SCNCM622","H72-SCNCM622"],"scale":{"paddingInner":0,"paddingOuter":0},"axis":null},
    "x":{"datum":0,"type":"quantitative","scale":{"domain":[0,100],"nice":false},"axis":{"values":[0,20,40,60,80,100],"tickCount":6,"labelOverlap":false,"title":"O percentage / %"}},"x2":{"datum":100},
    "color":{"field":"s","type":"nominal","scale":{"domain":["SCNCM622","H3-SCNCM622","H6-SCNCM622","H12-SCNCM622","H24-SCNCM622","H72-SCNCM622"],"range":["#F8F8F8","#EEF4FB","#FEFAEC","#FDF4EC","#FCEFEF","#F3F0FB"]},"legend":null}}},
  {"data":{"name":"pct"},"mark":{"type":"bar","strokeWidth":1},
   "encoding":{"y":{"field":"s","type":"nominal","sort":["SCNCM622","H3-SCNCM622","H6-SCNCM622","H12-SCNCM622","H24-SCNCM622","H72-SCNCM622"]},
    "yOffset":{"field":"c","type":"nominal","sort":["lat","o2","ads"],"scale":{"paddingInner":0.08,"paddingOuter":0.28}},
    "x":{"field":"v","type":"quantitative","axis":{"values":[0,20,40,60,80,100],"tickCount":6,"labelOverlap":false,"title":"O percentage / %"}},
    "fill":{"field":"c","type":"nominal","scale":{"domain":["lat","o2","ads"],"range":["#D0C0F5","#FCEAAA","#FBD3AF"]},
      "legend":{"orient":"none","legendX":117,"legendY":62,"title":null,"symbolType":"M-1.6,-0.8H1.6V0.8H-1.6Z","symbolSize":50,"labelFontSize":8,"rowPadding":8,"symbolStrokeWidth":1,"labelExpr":"datum.label=='lat' ? 'Oₗₐₜₜᵢcₑ' : datum.label=='o2' ? 'O₂⁻' : 'Oₐdₛ'"}},
    "stroke":{"field":"c","type":"nominal","scale":{"domain":["lat","o2","ads"],"range":["#9A6FE6","#F4C73A","#F2963F"]},
      "legend":{"orient":"none","legendX":117,"legendY":62,"title":null,"symbolType":"M-1.6,-0.8H1.6V0.8H-1.6Z","symbolSize":50,"labelFontSize":8,"rowPadding":8,"symbolStrokeWidth":1,"labelExpr":"datum.label=='lat' ? 'Oₗₐₜₜᵢcₑ' : datum.label=='o2' ? 'O₂⁻' : 'Oₐdₛ'"}}}},
  {"data":{"name":"pct"},"mark":{"type":"text","align":"left","dx":4,"fontSize":7.5,"baseline":"middle","color":"#333333"},
   "encoding":{"y":{"field":"s","type":"nominal","sort":["SCNCM622","H3-SCNCM622","H6-SCNCM622","H12-SCNCM622","H24-SCNCM622","H72-SCNCM622"]},
    "yOffset":{"field":"c","type":"nominal","sort":["lat","o2","ads"]},
    "x":{"field":"v","type":"quantitative"},"text":{"field":"lab"}}}
 ]}
],"spacing":-9,"resolve":{"scale":{"color":"independent","fill":"independent","stroke":"independent"}}}
],
"config":{
 "font":"Liberation Sans",
 "view":{"stroke":"#000000","strokeWidth":1},
 "axis":{"labelFontSize":7,"titleFontSize":7.5,"titleFontWeight":"bold","domain":false,"grid":false,"tickSize":2.5,"labelPadding":1,"titlePadding":1,"minExtent":0,"labelOverlap":false,"labelSeparation":0,"labelColor":"#222222","titleColor":"#000000","tickColor":"#000000"},
 "title":{"fontSize":11,"fontWeight":"bold","anchor":"start","frame":"group","offset":-8,"color":"#000000"}
}
}
